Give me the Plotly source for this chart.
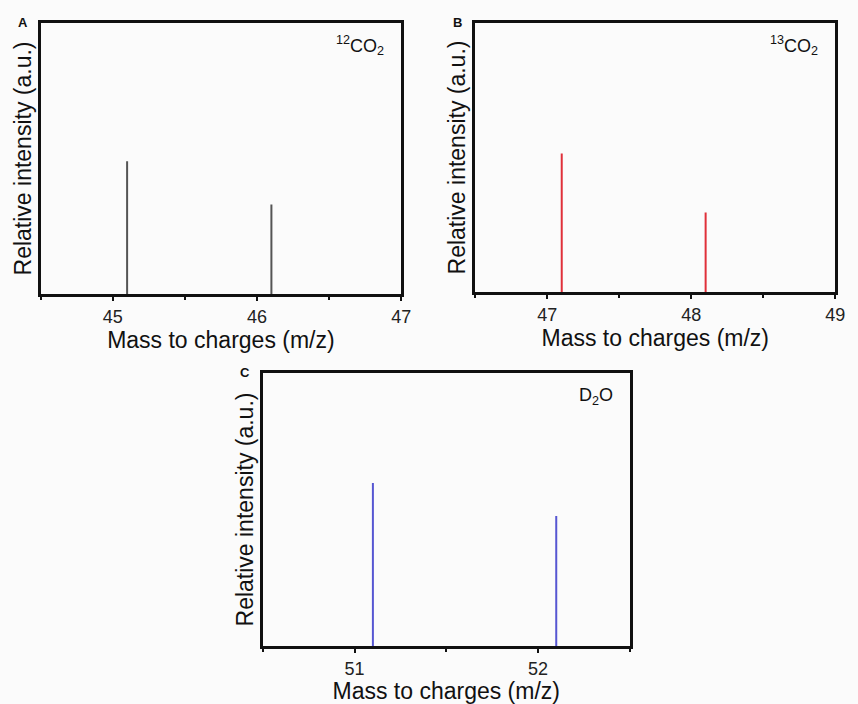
import plotly.graph_objects as go

W, H = 858, 704

# Peak positions (m/z) and relative intensities for each gas
co2_12_mz = [45.1, 46.1]
co2_12_int = [0.49, 0.33]
co2_13_mz = [47.1, 48.1]
co2_13_int = [0.515, 0.296]
d2o_mz = [51.1, 52.1]
d2o_int = [0.597, 0.476]

x_ranges = [[44.5, 47.0], [46.5, 49.0], [50.5, 52.5]]
x_ticks = [[45, 46, 47], [47, 48, 49], [51, 52]]
species = ["<sup>12</sup>CO<sub>2</sub>", "<sup>13</sup>CO<sub>2</sub>", "D<sub>2</sub>O"]
panel_letters = ["A", "B", "C"]
colors = ["#555555", "#e0303a", "#5656d2"]

# panel boxes in pixels: left, right, top, bottom
boxes = [(41, 406, 23, 294), (481, 845, 23, 292), (266, 637, 373, 646)]
ytitle_standoff = [0, 1, 0]

series = [(co2_12_mz, co2_12_int), (co2_13_mz, co2_13_int), (d2o_mz, d2o_int)]

fig = go.Figure()
font_family = "Liberation Sans, Arial, sans-serif"

for i, ((mz, inten), (l, r, t, b)) in enumerate(zip(series, boxes)):
    n = i + 1
    xs, ys = [], []
    for m, v in zip(mz, inten):
        xs += [m, m, None]
        ys += [0, v, None]
    fig.add_trace(go.Scatter(
        x=xs, y=ys, mode="lines",
        line=dict(color=colors[i], width=2),
        xaxis=f"x{n}" if n > 1 else "x", yaxis=f"y{n}" if n > 1 else "y",
        showlegend=False, hoverinfo="skip",
    ))
    xdom = [l / W, r / W]
    ydom = [1 - b / H, 1 - t / H]
    xa = dict(
        domain=xdom, range=x_ranges[i], tickvals=x_ticks[i],
        showline=True, linecolor="#111111", linewidth=3, mirror=True,
        ticks="outside", ticklen=4, tickwidth=2, tickcolor="#111111",
        minor=dict(tickvals=[x_ticks[i][0] - 0.5 + k for k in range(4)],
                   ticks="outside", ticklen=3, tickwidth=2, tickcolor="#111111"),
        showgrid=False, zeroline=False, fixedrange=True,
        tickfont=dict(family=font_family, size=18, color="#222222"),
        anchor=f"y{n}" if n > 1 else "y",
        title=dict(text="Mass to charges (m/z)", standoff=0,
                   font=dict(family=font_family, size=23, color="#111111")),
    )
    ya = dict(
        domain=ydom, range=[0, 1], showticklabels=False, ticks="",
        showline=True, linecolor="#111111", linewidth=3, mirror=True,
        showgrid=False, zeroline=False, fixedrange=True,
        anchor=f"x{n}" if n > 1 else "x",
        title=dict(text="Relative intensity (a.u.)", standoff=ytitle_standoff[i],
                   font=dict(family=font_family, size=23, color="#111111")),
    )
    fig.layout[f"xaxis{n}" if n > 1 else "xaxis"] = xa
    fig.layout[f"yaxis{n}" if n > 1 else "yaxis"] = ya

    # species label in the upper right corner
    fig.add_annotation(
        text=species[i], x=(r - 15) / W, y=1 - (t + 23) / H,
        xref="paper", yref="paper", xanchor="right", yanchor="middle",
        showarrow=False, font=dict(family=font_family, size=18, color="#111111"),
    )
    # panel letter
    fig.add_annotation(
        text=f"<b>{panel_letters[i]}</b>", x=(l - 25) / W, y=1 - (t - 1) / H,
        xref="paper", yref="paper", xanchor="left", yanchor="middle",
        showarrow=False, font=dict(family=font_family, size=13, color="#111111"),
    )

fig.update_layout(
    width=W, height=H,
    margin=dict(l=0, r=0, t=0, b=0),
    paper_bgcolor="#fbfbfb", plot_bgcolor="#fbfbfb",
)

fig.write_html("out.html")
